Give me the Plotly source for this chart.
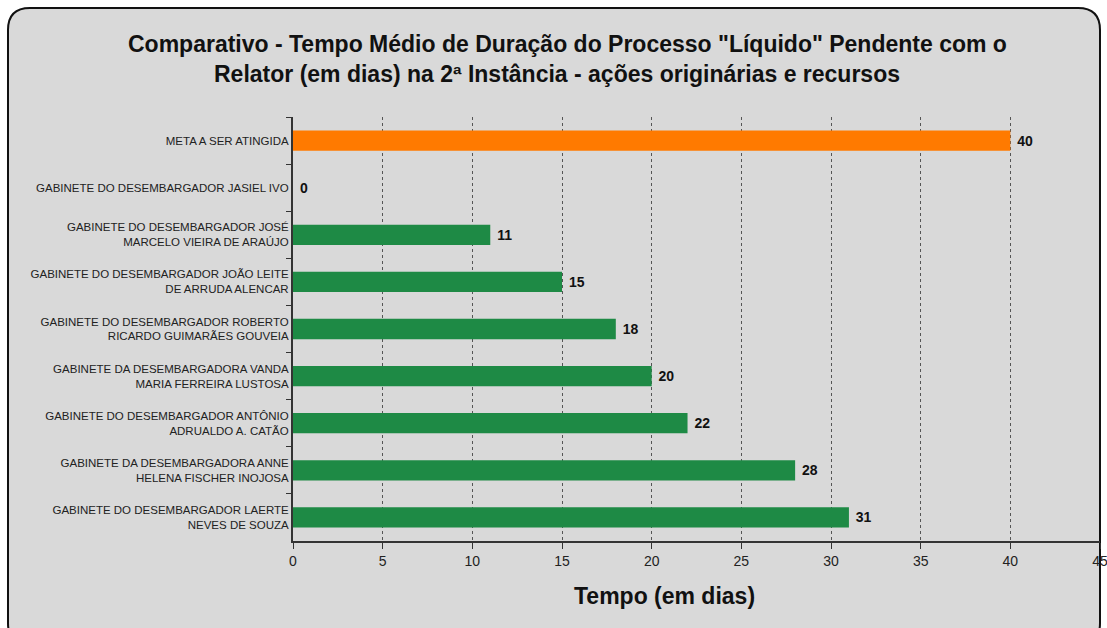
import plotly.graph_objects as go

# ---------------------- Data ----------------------
CATEGORIES = [
    "META A SER ATINGIDA",
    "GABINETE DO DESEMBARGADOR JASIEL IVO",
    "GABINETE DO DESEMBARGADOR JOSÉ<br>MARCELO VIEIRA DE ARAÚJO",
    "GABINETE DO DESEMBARGADOR JOÃO LEITE<br>DE ARRUDA ALENCAR",
    "GABINETE DO DESEMBARGADOR ROBERTO<br>RICARDO GUIMARÃES GOUVEIA",
    "GABINETE DA DESEMBARGADORA VANDA<br>MARIA FERREIRA LUSTOSA",
    "GABINETE DO DESEMBARGADOR ANTÔNIO<br>ADRUALDO A. CATÃO",
    "GABINETE DA DESEMBARGADORA ANNE<br>HELENA FISCHER INOJOSA",
    "GABINETE DO DESEMBARGADOR LAERTE<br>NEVES DE SOUZA",
]
DAYS = [40, 0, 11, 15, 18, 20, 22, 28, 31]
X_TICKS = [0, 5, 10, 15, 20, 25, 30, 35, 40, 45]

TITLE_1 = 'Comparativo - Tempo Médio de Duração do Processo "Líquido" Pendente com o'
TITLE_2 = "Relator (em dias) na 2ª Instância - ações originárias e recursos"
X_TITLE = "Tempo (em dias)"

ORANGE = "#FF7A00"
GREEN = "#1E8A45"
colors = [ORANGE] + [GREEN] * (len(CATEGORIES) - 1)

FONT = "Liberation Sans, Arial, sans-serif"
W, H = 1107, 628
# plot area in pixels
PL, PR, PT, PB = 293, 1100, 117, 541


def px_x(x):
    return (x - PL) / (PR - PL)


def px_y(y):
    return (PB - y) / (PB - PT)


# ---------------------- Figure ----------------------
fig = go.Figure(
    go.Bar(
        x=DAYS,
        y=CATEGORIES,
        orientation="h",
        marker=dict(color=colors, line=dict(width=0)),
        width=0.43,
        text=["\u00a0" + str(v) for v in DAYS],
        textposition="outside",
        textfont=dict(family=FONT, size=14, color="#111111", weight="bold"),
        cliponaxis=False,
    )
)

# rounded outer frame (pixel coordinates -> paper)
r = 22
x0, y0, x1, y1 = 8, 8, 1100, 645
pts = [
    ("M", x0 + r, y0), ("L", x1 - r, y0), ("Q", x1, y0), ("", x1, y0 + r),
    ("L", x1, y1 - r), ("Q", x1, y1), ("", x1 - r, y1), ("L", x0 + r, y1),
    ("Q", x0, y1), ("", x0, y1 - r), ("L", x0, y0 + r), ("Q", x0, y0), ("", x0 + r, y0),
]
path = " ".join(f"{c} {px_x(a):.5f},{px_y(b):.5f}".strip() for c, a, b in pts) + " Z"
fig.add_shape(
    type="path", xref="paper", yref="paper", path=path,
    fillcolor="#D9D9D9", line=dict(color="#111111", width=2), layer="below",
)

# title lines and axis title as annotations (pixel centres)
for txt, cx, cy in [(TITLE_1, 567, 44), (TITLE_2, 557, 74), (X_TITLE, 664, 596)]:
    fig.add_annotation(
        text=f"<b>{txt}</b>", xref="paper", yref="paper",
        x=px_x(cx), y=px_y(cy), xanchor="center", yanchor="middle",
        showarrow=False,
        font=dict(family=FONT, size=23, color="#111111"),
    )

fig.update_layout(
    width=W,
    height=H,
    margin=dict(l=PL, r=W - PR, t=PT, b=H - PB, autoexpand=False),
    paper_bgcolor="white",
    plot_bgcolor="#E4E4E4",
    showlegend=False,
    font=dict(family=FONT, color="#222222"),
)

fig.update_xaxes(
    range=[0, 45],
    tickvals=X_TICKS,
    tickfont=dict(size=14, color="#222222"),
    ticklabeloverflow="allow",
    showgrid=True,
    gridcolor="#555555",
    griddash="dot",
    gridwidth=1,
    showline=True,
    linecolor="#333333",
    linewidth=2,
    ticks="outside",
    ticklen=6,
    tickcolor="#333333",
    zeroline=False,
)

fig.update_yaxes(
    autorange="reversed",
    tickfont=dict(size=11.5, color="#222222"),
    showline=True,
    linecolor="#333333",
    linewidth=2,
    ticks="outside",
    tickson="boundaries",
    ticklen=5,
    tickcolor="#333333",
    showgrid=False,
)

fig.write_html(
    "out.html",
    config={"displayModeBar": False},
    post_script="document.body.style.margin='0';",
)
